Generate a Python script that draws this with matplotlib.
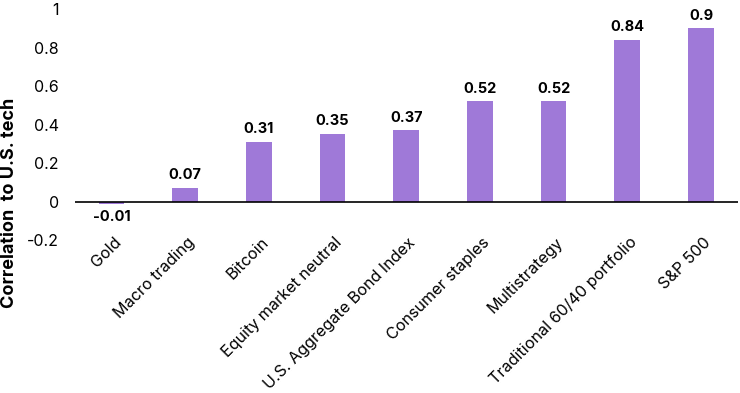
import matplotlib.pyplot as plt
import matplotlib.transforms as mtransforms
import numpy as np

plt.rcParams['font.family'] = ['Inter', 'DejaVu Sans']

categories = ["Gold", "Macro trading", "Bitcoin", "Equity market neutral",
              "U.S. Aggregate Bond Index", "Consumer staples", "Multistrategy",
              "Traditional 60/40 portfolio", "S&P 500"]
values = [-0.01, 0.07, 0.31, 0.35, 0.37, 0.52, 0.52, 0.84, 0.9]
value_labels = ["-0.01", "0.07", "0.31", "0.35", "0.37", "0.52", "0.52", "0.84", "0.9"]
yticks = [-0.2, 0, 0.2, 0.4, 0.6, 0.8, 1]
ytick_labels = ["-0.2", "0", "0.2", "0.4", "0.6", "0.8", "1"]

fig = plt.figure(figsize=(7.4, 3.93), dpi=100)
ax = fig.add_axes([0.101, 0.389, 0.896, 0.588])

x = np.arange(len(categories))
ax.bar(x, values, width=0.35, color="#9f79d8", zorder=2)
ax.axhline(0, color="black", lw=1.2, zorder=3)

for xi, v, lab in zip(x, values, value_labels):
    if v >= 0:
        ax.text(xi, v + 0.03, lab, ha="center", va="bottom", fontsize=10.5, fontweight="bold")
    else:
        ax.text(xi, v - 0.035, lab, ha="center", va="top", fontsize=10.5, fontweight="bold")

ax.set_xlim(-0.5, len(categories) - 0.5)
ax.set_ylim(-0.2, 1)
ax.set_yticks(yticks)
ax.set_yticklabels(ytick_labels, fontsize=11.5)
ax.set_xticks(x)
ax.set_xticklabels(categories, rotation=45, ha="right", va="center",
                   rotation_mode="anchor", fontsize=11.6)
ax.tick_params(length=0)
ax.tick_params(axis="y", pad=11.5)
ax.tick_params(axis="x", pad=0)
shift = mtransforms.ScaledTranslation(0.07, 0, fig.dpi_scale_trans)
for t in ax.get_xticklabels():
    t.set_transform(t.get_transform() + shift)
for s in ax.spines.values():
    s.set_visible(False)

fig.text(0.013, 0.483, "Correlation  to U.S. tech", rotation=90, ha="center", va="center",
         fontsize=13, fontweight="bold")

fig.savefig("out.png", dpi=100)
